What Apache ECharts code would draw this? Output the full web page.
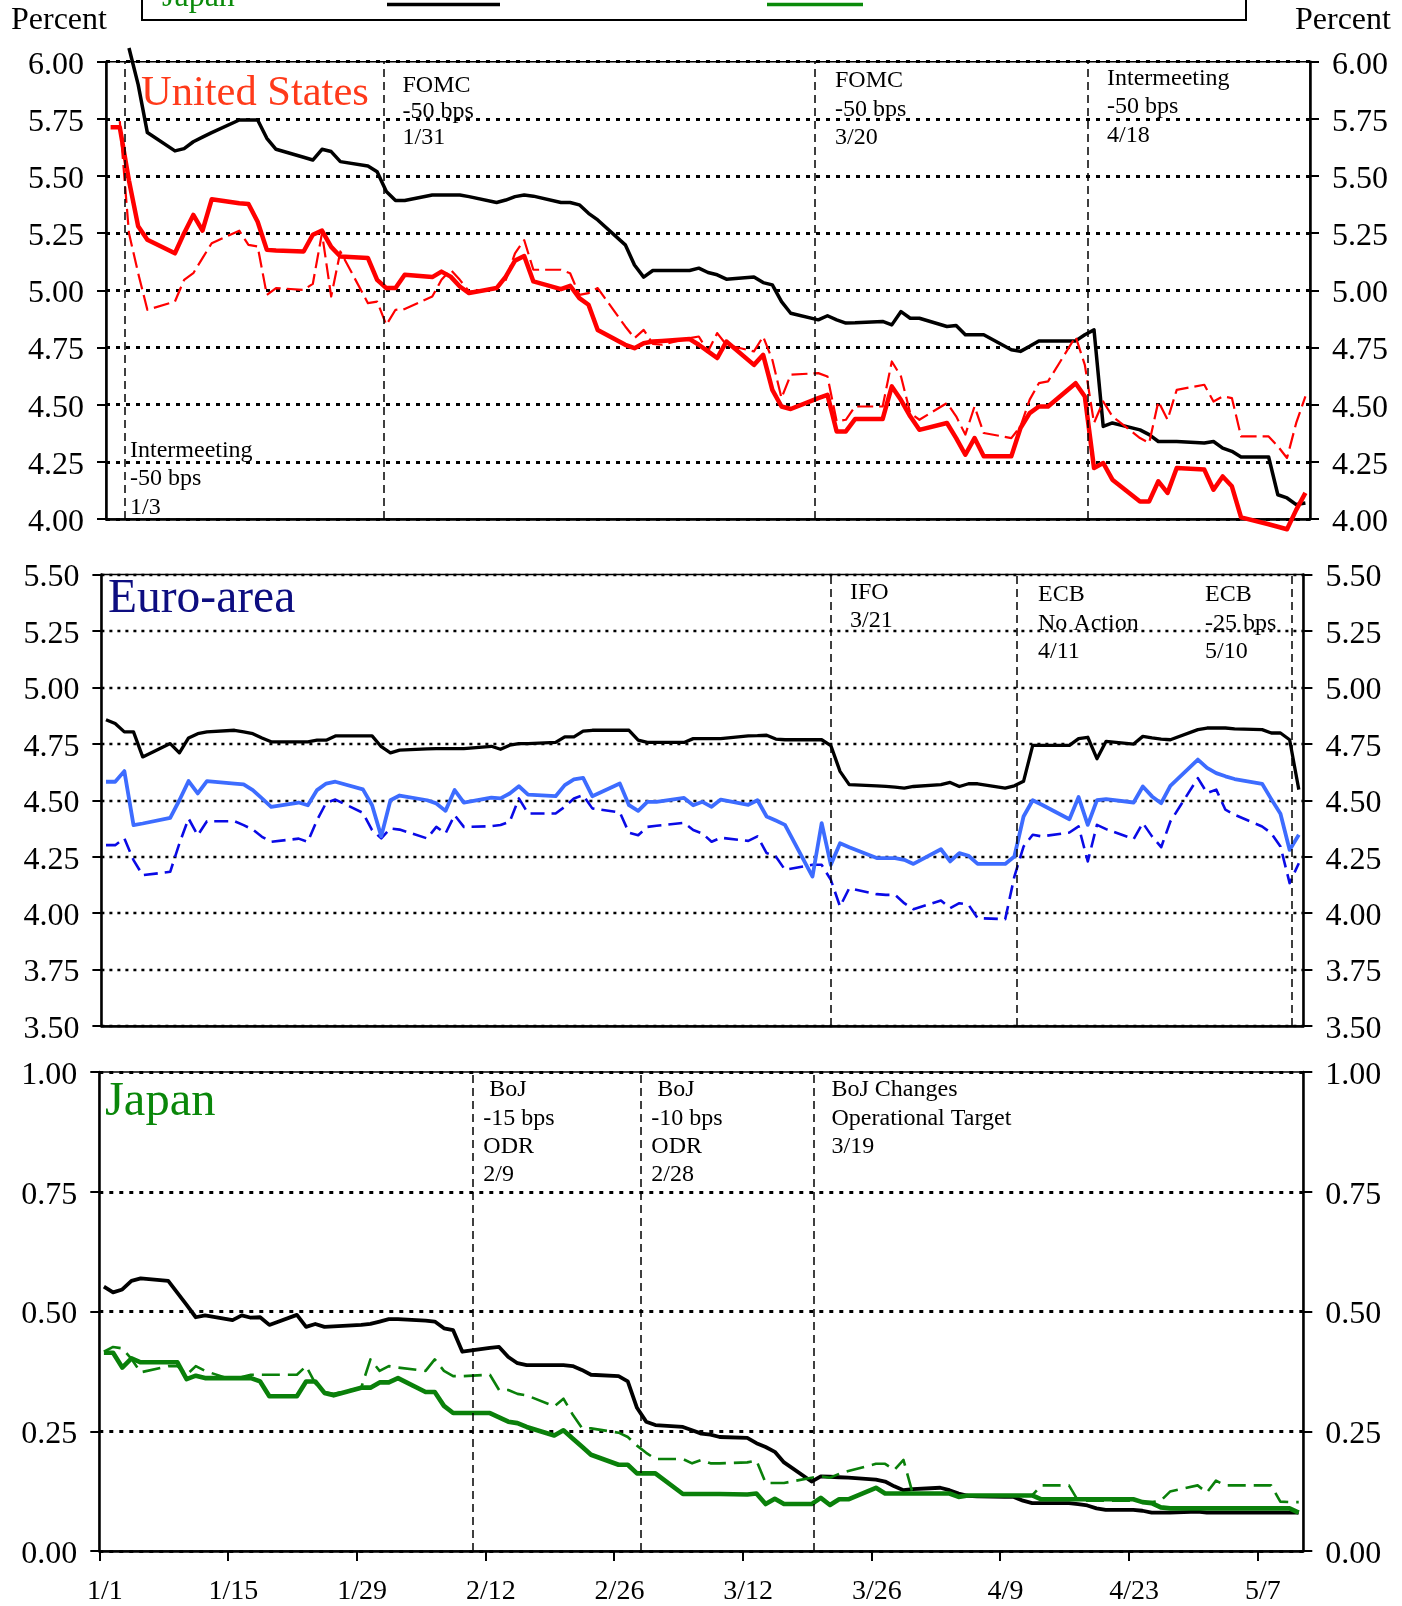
<!DOCTYPE html>
<html><head><meta charset="utf-8">
<script src="https://cdn.jsdelivr.net/npm/echarts@6/dist/echarts.min.js"></script>
<style>html,body{margin:0;padding:0;background:#fff}#c{width:1402px;height:1606px}</style>
</head><body><div id="c"></div><script>
// ---- business days plotted (2001) ----
const dates = ['1/1','1/2','1/3','1/4','1/5','1/8','1/9','1/10','1/11','1/12','1/15','1/16','1/17','1/18','1/19','1/22','1/23','1/24','1/25','1/26','1/29','1/30','1/31',
'2/1','2/2','2/5','2/6','2/7','2/8','2/9','2/12','2/13','2/14','2/15','2/16','2/19','2/20','2/21','2/22','2/23','2/26','2/27','2/28',
'3/1','3/2','3/5','3/6','3/7','3/8','3/9','3/12','3/13','3/14','3/15','3/16','3/19','3/20','3/21','3/22','3/23','3/26','3/27','3/28','3/29','3/30',
'4/2','4/3','4/4','4/5','4/6','4/9','4/10','4/11','4/12','4/13','4/16','4/17','4/18','4/19','4/20','4/23','4/24','4/25','4/26','4/27','4/30',
'5/1','5/2','5/3','5/4','5/7','5/8','5/9','5/10','5/11'];

// ---- United States ----
const usBlack = [null,null,6.06,5.90,5.69,5.61,5.62,5.65,5.67,5.69,5.745,5.745,5.745,5.665,5.617,5.582,5.570,5.617,5.607,5.563,5.544,5.519,5.432,
5.393,5.393,5.417,5.417,5.417,5.417,5.41,5.384,5.395,5.41,5.417,5.412,5.384,5.384,5.374,5.337,5.308,5.199,5.111,5.058,
5.087,5.087,5.087,5.097,5.078,5.068,5.049,5.058,5.034,5.024,4.951,4.90,4.871,4.889,4.871,4.857,4.858,4.864,4.849,4.907,4.878,4.878,
4.842,4.846,4.806,4.806,4.806,4.74,4.733,4.755,4.779,4.779,4.779,4.806,4.827,4.405,4.42,4.39,4.369,4.339,4.339,4.339,4.332,
4.339,4.31,4.296,4.271,4.271,4.106,4.092,4.063,4.07];
const usSolid = [5.713,5.713,5.48,5.28,5.221,5.162,5.25,5.33,5.261,5.398,5.381,5.378,5.30,5.177,5.174,5.17,5.243,5.261,5.19,5.148,5.141,5.046,5.01,
5.01,5.068,5.058,5.082,5.06,5.017,4.988,5.01,5.06,5.13,5.15,5.039,5.005,5.02,4.966,4.937,4.827,4.762,4.747,4.769,
4.776,4.779,4.787,4.762,4.733,4.704,4.776,4.674,4.718,4.565,4.492,4.481,4.529,4.543,4.383,4.383,4.437,4.437,4.58,4.52,4.449,4.39,
4.42,4.354,4.281,4.354,4.274,4.274,4.398,4.463,4.492,4.492,4.594,4.536,4.223,4.245,4.172,4.077,4.077,4.165,4.114,4.223,4.216,
4.128,4.186,4.143,4.007,3.977,3.966,3.955,4.04,4.114];
const usDashed = [null,5.74,5.25,5.075,4.915,4.951,5.046,5.075,5.141,5.206,5.261,5.199,5.192,4.98,5.01,5.002,5.028,5.25,4.973,5.17,4.944,4.951,4.849,
4.915,4.918,4.973,5.046,5.09,5.046,4.995,5.01,5.046,5.162,5.22,5.09,5.09,5.075,4.98,4.988,5.01,4.842,4.791,4.827,
4.766,4.762,4.791,4.798,4.733,4.813,4.762,4.733,4.798,4.696,4.529,4.631,4.638,4.623,4.427,4.434,4.492,4.492,4.689,4.623,4.463,4.434,
4.507,4.449,4.369,4.492,4.376,4.354,4.405,4.522,4.594,4.602,4.798,4.674,4.42,4.514,4.449,4.354,4.332,4.514,4.434,4.565,4.587,
4.514,4.536,4.529,4.361,4.361,4.318,4.267,4.42,4.536];

// ---- Euro-area ----
const euBlack = [4.857,4.84,4.803,4.803,4.692,4.751,4.71,4.776,4.795,4.803,4.81,4.803,4.795,4.776,4.759,4.759,4.759,4.766,4.766,4.785,4.785,4.785,4.737,
4.71,4.722,4.728,4.729,4.729,4.729,4.729,4.739,4.726,4.744,4.751,4.751,4.756,4.781,4.781,4.806,4.81,4.81,4.81,4.766,
4.756,4.756,4.756,4.773,4.773,4.773,4.773,4.785,4.786,4.788,4.771,4.768,4.768,4.768,4.742,4.628,4.569,4.564,4.561,4.558,4.554,4.561,
4.569,4.579,4.561,4.573,4.573,4.554,4.564,4.584,4.743,4.743,4.743,4.773,4.779,4.684,4.761,4.749,4.783,4.776,4.771,4.768,4.813,
4.82,4.82,4.82,4.816,4.813,4.798,4.798,4.768,4.547];
const euSolid = [4.582,4.582,4.629,4.39,4.397,4.422,4.50,4.585,4.53,4.585,4.574,4.57,4.545,4.508,4.471,4.49,4.478,4.545,4.574,4.582,4.548,4.478,4.34,
4.50,4.521,4.5,4.486,4.453,4.545,4.49,4.512,4.508,4.53,4.562,4.525,4.518,4.567,4.592,4.599,4.518,4.574,4.478,4.453,
4.493,4.493,4.51,4.478,4.493,4.471,4.503,4.48,4.5,4.428,4.41,4.391,4.162,4.399,4.214,4.31,4.292,4.244,4.244,4.244,4.236,4.218,
4.283,4.229,4.266,4.254,4.218,4.218,4.251,4.428,4.5,4.48,4.416,4.514,4.391,4.5,4.505,4.49,4.561,4.517,4.487,4.564,4.68,
4.643,4.62,4.606,4.594,4.573,4.505,4.44,4.28,4.347];
const euDashed = [4.301,4.301,4.331,4.235,4.168,4.183,4.309,4.419,4.345,4.407,4.407,4.39,4.37,4.338,4.316,4.33,4.316,4.412,4.489,4.503,4.444,4.368,4.331,
4.375,4.37,4.331,4.382,4.353,4.434,4.382,4.385,4.39,4.405,4.508,4.441,4.441,4.471,4.508,4.523,4.464,4.446,4.356,4.345,
4.382,4.387,4.4,4.368,4.353,4.316,4.334,4.32,4.34,4.266,4.251,4.192,4.214,4.214,4.147,4.029,4.11,4.084,4.081,4.081,4.044,4.017,
4.056,4.022,4.044,4.037,3.978,3.973,4.162,4.295,4.347,4.34,4.357,4.384,4.229,4.391,4.372,4.328,4.399,4.34,4.292,4.406,4.598,
4.532,4.547,4.458,4.436,4.384,4.354,4.295,4.133,4.221];

// ---- Japan ----
const jpBlack = [0.552,0.540,0.546,0.564,0.569,0.564,0.539,0.514,0.488,0.492,0.482,0.492,0.487,0.488,0.472,0.493,0.468,0.474,0.468,0.469,0.472,0.474,0.479,
0.484,0.484,0.481,0.479,0.465,0.461,0.416,0.424,0.426,0.405,0.392,0.388,0.388,0.388,0.386,0.378,0.368,0.365,0.354,0.299,
0.270,0.263,0.259,0.252,0.245,0.243,0.238,0.236,0.225,0.217,0.207,0.185,0.145,0.156,0.155,0.154,0.153,0.149,0.145,0.135,0.127,0.129,
0.132,0.127,0.12,0.115,0.114,0.113,0.113,0.105,0.1,0.1,0.1,0.098,0.095,0.089,0.086,0.086,0.084,0.08,0.08,0.08,0.082,
0.08,0.08,0.08,0.08,0.08,0.08,0.08,0.08,0.08];
const jpSolid = [0.414,0.414,0.383,0.402,0.394,0.394,0.394,0.359,0.366,0.361,0.361,0.361,0.361,0.354,0.323,0.323,0.354,0.354,0.33,0.325,0.341,0.341,0.352,
0.352,0.361,0.332,0.332,0.303,0.288,0.288,0.288,0.279,0.27,0.267,0.259,0.241,0.252,0.235,0.218,0.201,0.18,0.18,0.162,
0.162,0.162,0.119,0.119,0.119,0.119,0.119,0.118,0.12,0.098,0.109,0.098,0.098,0.111,0.096,0.108,0.108,0.132,0.12,0.12,0.12,0.12,
0.12,0.12,0.113,0.116,0.116,0.116,0.116,0.116,0.116,0.108,0.108,0.108,0.108,0.108,0.108,0.108,0.102,0.1,0.091,0.089,0.089,
0.089,0.089,0.089,0.089,0.089,0.089,0.089,0.089,0.08];
const jpDashed = [0.416,0.426,0.423,0.401,0.373,0.386,0.386,0.368,0.386,0.376,0.357,0.363,0.368,0.368,0.368,0.368,0.386,0.35,0.332,0.328,0.341,0.40,0.376,
0.386,0.383,0.376,0.40,0.376,0.365,0.365,0.368,0.336,0.336,0.328,0.325,0.302,0.318,0.285,0.257,0.256,0.247,0.238,0.22,
0.205,0.192,0.192,0.183,0.19,0.183,0.183,0.185,0.189,0.142,0.142,0.142,0.153,0.156,0.153,0.161,0.167,0.182,0.182,0.169,0.19,0.12,
0.12,0.12,0.113,0.116,0.116,0.116,0.116,0.116,0.116,0.137,0.137,0.105,0.105,0.105,0.105,0.105,0.102,0.102,0.105,0.124,0.137,
0.122,0.147,0.137,0.137,0.137,0.137,0.103,0.102,0.102];

// ---- axis tick labels ----
const tickLabels = ['1/1','1/15','1/29','2/12','2/26','3/12','3/26','4/9','4/23','5/7'];
const axisEnd = '5/12';

// ---- event lines (positions as drawn, in days after 1/1) ----
const usEvents = [2.05, 30.25, 77.15, 106.8];
const euEvents = [79.45, 99.8, 129.7];
const jpEvents = [40.66, 58.9, 77.7];

function dayOf(s){const p=s.split('/').map(Number);return (Date.UTC(2001,p[0]-1,p[1])-Date.UTC(2001,0,1))/86400000;}
const xs = dates.map(s=>dayOf(s)+0.5);
const pair = arr => arr.map((v,i)=>[xs[i],v]).filter(p=>p[1]!==null);
const tickDays = tickLabels.map(dayOf);
const xMax = dayOf(axisEnd);
const labelOf = {}; tickLabels.forEach((t,i)=>labelOf[tickDays[i]]=t);

const FONT = '"Liberation Serif","Times New Roman",serif';
const grids = [
  {left:106, top:61.7, width:1204, height:457.3},
  {left:101.4, top:574.5, width:1202, height:451.5},
  {left:99.3, top:1072, width:1204, height:479.5}
];
const ranges = [[4,6],[3.5,5.5],[0,1]];
const splitW = [3, 2.3, 3];
const splitT = [[4,6],[3,5],[4,6]];

const xAxis = grids.map((g,i)=>({
  gridIndex:i, type:'value', min:0, max:xMax, interval:14,
  axisLine:{show:true, onZero:false, lineStyle:{color:'#000', width:2.5}},
  axisTick:{show:i===2, inside:false, length:10, lineStyle:{color:'#000', width:2}, customValues: i===2?tickDays:undefined},
  axisLabel:{show:i===2, margin:27, color:'#000', fontFamily:FONT, fontSize:28, padding:[0,0,0,11],
    customValues: i===2?tickDays:undefined,
    formatter:v=>labelOf[v]!==undefined?labelOf[v]:''},
  splitLine:{show:false}
}));
const yAxis = [];
grids.forEach((g,i)=>{
  const base = {gridIndex:i, type:'value', min:ranges[i][0], max:ranges[i][1], interval:0.25,
    axisLine:{show:true, onZero:false, lineStyle:{color:'#000', width:2.5}},
    axisTick:{show:true, inside:false, length:9, lineStyle:{color:'#000', width:2}},
    axisLabel:{margin:22, color:'#000', fontFamily:FONT, fontSize:32, verticalAlign:'top', lineHeight:7, formatter:v=>v.toFixed(2)}};
  yAxis.push(Object.assign({}, base, {position:'left',
    splitLine:{show:true, lineStyle:{color:'#000', width:splitW[i], type:splitT[i]}}}));
  yAxis.push(Object.assign({}, base, {position:'right', splitLine:{show:false}}));
});

function line(gi, arr, color, width, type, events){
  const s = {type:'line', xAxisIndex:gi, yAxisIndex:gi*2, data:pair(arr), symbol:'none', showSymbol:false,
    clip:gi!==0, silent:true,
    lineStyle:{color:color, width:width, type:type||'solid', join:'round'}};
  if(events){
    s.markLine = {silent:true, symbol:['none','none'], label:{show:false}, animation:false,
      lineStyle:{color:'#000', width:1.5, type:[8,5]},
      data: events.map(d=>({xAxis:d}))};
  }
  return s;
}

const series = [
  line(0, usBlack, '#000', 3.5, 'solid', usEvents),
  line(0, usDashed, '#ff0000', 2.2, [16,6]),
  line(0, usSolid, '#ff0000', 4.5),
  line(1, euBlack, '#000', 3.3, 'solid', euEvents),
  line(1, euDashed, '#0a0ae6', 2.6, [14,7]),
  line(1, euSolid, '#3d6cff', 3.8),
  line(2, jpBlack, '#000', 3.8, 'solid', jpEvents),
  line(2, jpDashed, '#0a800a', 2.6, [18,8]),
  line(2, jpSolid, '#0a800a', 4.6)
];

function txt(x, y, text, size, color, lh){
  return {type:'text', x:x, y:y, silent:true, z:10,
    style:{text:text, fill:color||'#000', font:size+'px '+FONT, lineHeight:lh||size, verticalAlign:'top', align:'left'}};
}
const graphic = [
  {type:'rect', silent:true, shape:{x:142, y:-60, width:1104, height:80}, style:{fill:'rgba(0,0,0,0)', stroke:'#000', lineWidth:2}},
  {type:'text', x:162, y:-2, silent:true, style:{text:'Japan', fill:'#0a8a0a', font:'32px '+FONT, verticalAlign:'middle'}},
  {type:'line', silent:true, shape:{x1:387, y1:4.5, x2:500, y2:4.5}, style:{stroke:'#000', lineWidth:3.5}},
  {type:'line', silent:true, shape:{x1:767, y1:4.5, x2:863, y2:4.5}, style:{stroke:'#0a8a0a', lineWidth:3.5}},
  {type:'text', x:11, y:21, silent:true, style:{text:'Percent', fill:'#000', font:'32px '+FONT, verticalAlign:'middle'}},
  {type:'text', x:1295, y:21, silent:true, style:{text:'Percent', fill:'#000', font:'32px '+FONT, verticalAlign:'middle'}},
  {type:'text', x:141, y:94, silent:true, style:{text:'United States', fill:'#ff3a1a', font:'42.5px '+FONT, verticalAlign:'middle'}},
  {type:'text', x:108, y:600, silent:true, style:{text:'Euro-area', fill:'#0d0d80', font:'47.5px '+FONT, verticalAlign:'middle'}},
  {type:'text', x:105, y:1102, silent:true, style:{text:'Japan', fill:'#0a870a', font:'48.5px '+FONT, verticalAlign:'middle'}},
  txt(130, 436, 'Intermeeting\n-50 bps\n1/3', 24, '#000', 28.5),
  txt(402.5, 73, 'FOMC\n-50 bps\n1/31', 24, '#000', 26),
  txt(835, 66.5, 'FOMC\n-50 bps\n3/20', 24, '#000', 28.5),
  txt(1107, 64, 'Intermeeting\n-50 bps\n4/18', 24, '#000', 28.5),
  txt(850, 578, 'IFO\n3/21', 24, '#000', 28.5),
  txt(1038, 580.5, 'ECB\nNo Action\n4/11', 24, '#000', 28.5),
  txt(1205, 580.5, 'ECB\n-25 bps\n5/10', 24, '#000', 28.5),
  txt(483.3, 1076, ' BoJ\n-15 bps\nODR\n2/9', 24, '#000', 28.3),
  txt(651.3, 1076, ' BoJ\n-10 bps\nODR\n2/28', 24, '#000', 28.3),
  txt(831.5, 1076, 'BoJ Changes\nOperational Target\n3/19', 24, '#000', 28.3)
];

const chart = echarts.init(document.getElementById('c'), null, {renderer:'canvas'});
chart.setOption({
  animation:false,
  backgroundColor:'#fff',
  grid: grids.map(g=>Object.assign({show:true, borderColor:'#000', borderWidth:1.5, backgroundColor:'rgba(0,0,0,0)'}, g)),
  xAxis: xAxis,
  yAxis: yAxis,
  series: series,
  graphic: graphic
});
</script></body></html>
